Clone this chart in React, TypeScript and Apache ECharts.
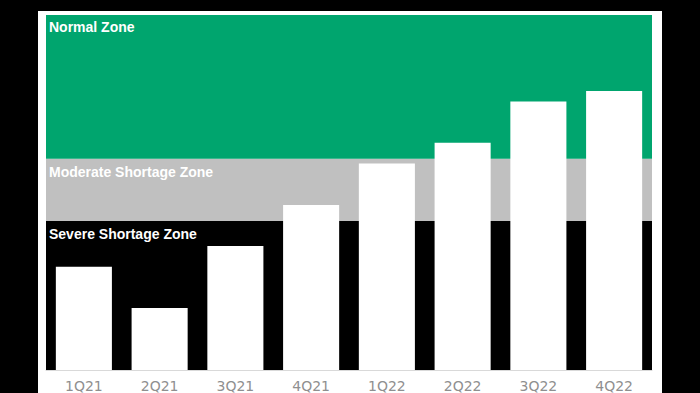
import React, { useEffect, useRef } from "react";
import * as echarts from "echarts";

const categories = ["1Q21", "2Q21", "3Q21", "4Q21", "1Q22", "2Q22", "3Q22", "4Q22"];
const values = [29.1, 17.5, 34.9, 46.5, 58.2, 64.0, 75.6, 78.6];
const zoneNames = ["Severe Shortage Zone", "Moderate Shortage Zone", "Normal Zone"];
const zoneBounds = [0, 42.0, 59.5, 100];
const zoneColors = ["#000000", "#c0c0c0", "#00a56e"];

export default function App() {
  const ref = useRef<HTMLDivElement>(null);
  useEffect(() => {
    document.body.style.margin = "0";
    document.body.style.background = "#000";
    const chart = echarts.init(ref.current!, null, { renderer: "svg" });
    const areas = zoneNames.map((name, i) => [
      {
        name,
        yAxis: zoneBounds[i],
        itemStyle: { color: zoneColors[i] },
        label: { offset: [3, i === 2 ? 5 : 6] },
      },
      { yAxis: zoneBounds[i + 1] },
    ]);
    chart.setOption({
      animation: false,
      backgroundColor: "#000",
      graphic: [
        {
          type: "rect",
          shape: { x: 38, y: 11, width: 624, height: 390 },
          style: { fill: "#fff" },
          z: -10,
          silent: true,
        },
      ],
      grid: { left: 46, right: 48, top: 15, bottom: 23 },
      xAxis: {
        type: "category",
        data: categories,
        axisLine: { show: true, lineStyle: { color: "#d9d9d9", width: 1 } },
        axisTick: { show: false },
        axisLabel: {
          color: "#8f8f8f",
          fontSize: 14,
          fontFamily: "DejaVu Sans",
          margin: 9,
        },
      },
      yAxis: {
        type: "value",
        min: 0,
        max: 100,
        show: false,
        splitLine: { show: false },
      },
      series: [
        {
          type: "line",
          data: [],
          z: 1,
          markArea: {
            silent: true,
            label: {
              show: true,
              position: "insideTopLeft",
              distance: 0,
              offset: [3, 5],
              color: "#fff",
              fontWeight: "bold",
              fontSize: 14,
              fontFamily: "Liberation Sans",
            },
            data: areas,
          },
        },
        {
          type: "bar",
          data: values,
          z: 5,
          barCategoryGap: "26%",
          itemStyle: { color: "#fff" },
        },
      ],
    });
    return () => chart.dispose();
  }, []);
  return <div ref={ref} style={{ width: 700, height: 393 }} />;
}
